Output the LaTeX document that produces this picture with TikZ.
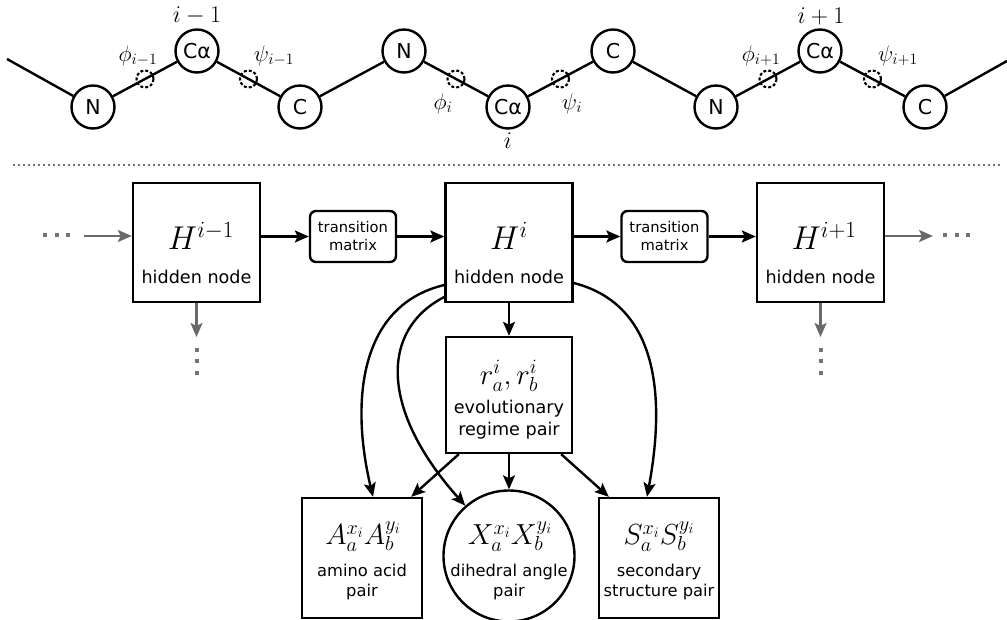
\RequirePackage{fix-cm}
\documentclass[tikz,border=0pt]{standalone}
\usepackage[no-math]{fontspec}
\setmainfont{DejaVu Sans}
\usetikzlibrary{arrows.meta,calc}
\definecolor{arrgray}{RGB}{105,105,105}
\definecolor{dotgray}{RGB}{115,115,115}
\newcommand{\myfs}[2]{\fontsize{#1}{#2}\selectfont}
\tikzset{
  atom/.style={circle,draw,line width=2.4pt,minimum size=43pt,inner sep=0pt,font=\myfs{20.5}{22}},
  dih/.style={circle,draw,line width=2.1pt,minimum size=17pt,inner sep=0pt,dash pattern=on 3pt off 2pt},
  bond/.style={line width=2.4pt},
  chainlbl/.style={inner sep=0pt,font=\myfs{22.5}{24}},
  idxlbl/.style={inner sep=0pt,font=\myfs{24}{26}},
  hbox/.style={rectangle,draw,line width=2.4pt,minimum width=127pt,minimum height=119pt,inner sep=0pt},
  smallbox/.style={rectangle,draw,line width=2.4pt,minimum width=120pt,minimum height=120pt,inner sep=0pt},
  rbox/.style={rectangle,draw,line width=2.4pt,minimum width=126pt,minimum height=116pt,inner sep=0pt},
  circbox/.style={circle,draw,line width=2.4pt,minimum size=131pt,inner sep=0pt},
  tmbox/.style={rectangle,rounded corners=6pt,draw,line width=2.4pt,minimum width=86pt,minimum height=51pt,align=center,inner sep=0pt,font=\myfs{14.7}{18}},
  bigmath/.style={inner sep=0pt,font=\myfs{33}{35}},
  midmath/.style={inner sep=0pt,font=\myfs{29}{31}},
  htext/.style={inner sep=0pt,align=center,font=\myfs{17.6}{22}},
  btext/.style={inner sep=0pt,align=center,font=\myfs{16.3}{20}},
  arr/.style={line width=2.4pt,-{Stealth[length=14pt,width=12pt,inset=3pt]}},
  garr/.style={arr,draw=arrgray,color=arrgray},
}
\begin{document}
\begin{tikzpicture}[x=1pt,y=-1pt]
\useasboundingbox (0,0) rectangle (1007,620);
% ---------- backbone chain ----------
\coordinate (lend) at (7,59);
\coordinate (rend) at (1007,61);
\node[atom] (n1)  at (93,107) {N};
\node[atom] (ca1) at (197,51) {Cα};
\node[atom] (c1)  at (300,107) {C};
\node[atom] (n2)  at (404,51) {N};
\node[atom] (ca2) at (508,107) {Cα};
\node[atom] (c2)  at (613,51) {C};
\node[atom] (n3)  at (716,107) {N};
\node[atom] (ca3) at (820,51) {Cα};
\node[atom] (c3)  at (925,107) {C};
\draw[bond] (lend) -- (n1);
\draw[bond] (n1) -- node[dih] (phi1) {} (ca1);
\draw[bond] (ca1) -- node[dih] (psi1) {} (c1);
\draw[bond] (c1) -- (n2);
\draw[bond] (n2) -- node[dih] (phi2) {} (ca2);
\draw[bond] (ca2) -- node[dih] (psi2) {} (c2);
\draw[bond] (c2) -- (n3);
\draw[bond] (n3) -- node[dih] (phi3) {} (ca3);
\draw[bond] (ca3) -- node[dih] (psi3) {} (c3);
\draw[bond] (c3) -- (rend);
% labels
\node[idxlbl] (li1) at (197,16) {$i-1$};
\node[idxlbl] (li2) at (508,141) {$i$};
\node[idxlbl] (li3) at (821,16) {$i+1$};
\node[chainlbl] (lphi1) at (138,56) {$\phi_{i-1}$};
\node[chainlbl] (lpsi1) at (274,56) {$\psi_{i-1}$};
\node[chainlbl] (lphi2) at (443,104) {$\phi_{i}$};
\node[chainlbl] (lpsi2) at (572,104) {$\psi_{i}$};
\node[chainlbl] (lphi3) at (761,56) {$\phi_{i+1}$};
\node[chainlbl] (lpsi3) at (898,56) {$\psi_{i+1}$};
% separator
\draw[dotgray,line width=2.4pt,dash pattern=on 2.4pt off 2.6pt] (13,165) -- (1000,165);
% ---------- hidden Markov chain ----------
\node[hbox] (h1) at (196.5,242.5) {};
\node[hbox] (h2) at (509,242.5) {};
\node[hbox] (h3) at (820.5,242.5) {};
\node[bigmath] (h1m) at (201,236) {$H^{i-1}$};
\node[bigmath] (h2m) at (509,236) {$H^{i}$};
\node[bigmath] (h3m) at (824,236) {$H^{i+1}$};
\node[htext] (h1t) at (196.5,277) {hidden node};
\node[htext] (h2t) at (509,277) {hidden node};
\node[htext] (h3t) at (820.5,277) {hidden node};
\node[tmbox] (tm1) at (353,236.5) {transition\\matrix};
\node[tmbox] (tm2) at (664.5,236.5) {transition\\matrix};
\draw[arr] (h1.east |- tm1.west) -- (tm1.west);
\draw[arr] (tm1.east) -- (h2.west |- tm1.east);
\draw[arr] (h2.east |- tm2.west) -- (tm2.west);
\draw[arr] (tm2.east) -- (h3.west |- tm2.east);
% gray continuation arrows and dots
\coordinate (lin) at (84,236);
\coordinate (rout) at (933,236);
\coordinate (d1) at (196.5,337);
\coordinate (d3) at (820.5,337);
\draw[garr] (lin) -- (h1.west |- lin);
\draw[garr] (h3.east |- rout) -- (rout);
\draw[garr] (h1.south) -- (d1);
\draw[garr] (h3.south) -- (d3);
\foreach \x in {45,57,68}{\fill[dotgray] (\x-2,233.5) rectangle (\x+2,237.5);}
\foreach \x in {945,957,968}{\fill[dotgray] (\x-2,233.5) rectangle (\x+2,237.5);}
\foreach \y in {350,361.5,373}{
  \fill[dotgray] (194.5,\y-2) rectangle (198.5,\y+2);
  \fill[dotgray] (818.5,\y-2) rectangle (822.5,\y+2);}
% ---------- regime and observations ----------
\node[rbox] (r) at (509,395) {};
\node[midmath] (rm) at (509,376) {$r_a^i, r_b^i$};
\node[htext] (rt) at (509,420) {evolutionary\\regime pair};
\node[smallbox] (aa) at (362,558) {};
\node[midmath] (aam) at (363,537) {$A_a^{x_i}A_b^{y_i}$};
\node[btext] (aat) at (362,582) {amino acid\\pair};
\node[circbox] (da) at (509,556) {};
\node[midmath] (dam) at (510,537) {$X_a^{x_i}X_b^{y_i}$};
\node[btext] (dat) at (509,582) {dihedral angle\\pair};
\node[smallbox] (ss) at (659,558) {};
\node[midmath] (ssm) at (659,537) {$S_a^{x_i}S_b^{y_i}$};
\node[btext] (sst) at (659,582) {secondary\\structure pair};
\draw[arr] (h2.south) -- (r.north);
\draw[arr] ($(r.south west)+(14,0)$) -- ($(aa.north east)+(-12,0)$);
\draw[arr] (r.south) -- (da.north);
\draw[arr] ($(r.south east)+(-12,0)$) -- ($(ss.north west)+(11,0)$);
\draw[arr] ($(h2.west)+(0,42.5)$) .. controls (360,305) and (350,400) .. ($(aa.north)+(11,0)$);
\draw[arr] ($(h2.west)+(0,54.5)$) .. controls (380,330) and (380,410) .. (da.131);
\draw[arr] ($(h2.east)+(0,40.5)$) .. controls (660,305) and (665,400) .. ($(ss.north)+(-12,0)$);
\end{tikzpicture}
\end{document}
